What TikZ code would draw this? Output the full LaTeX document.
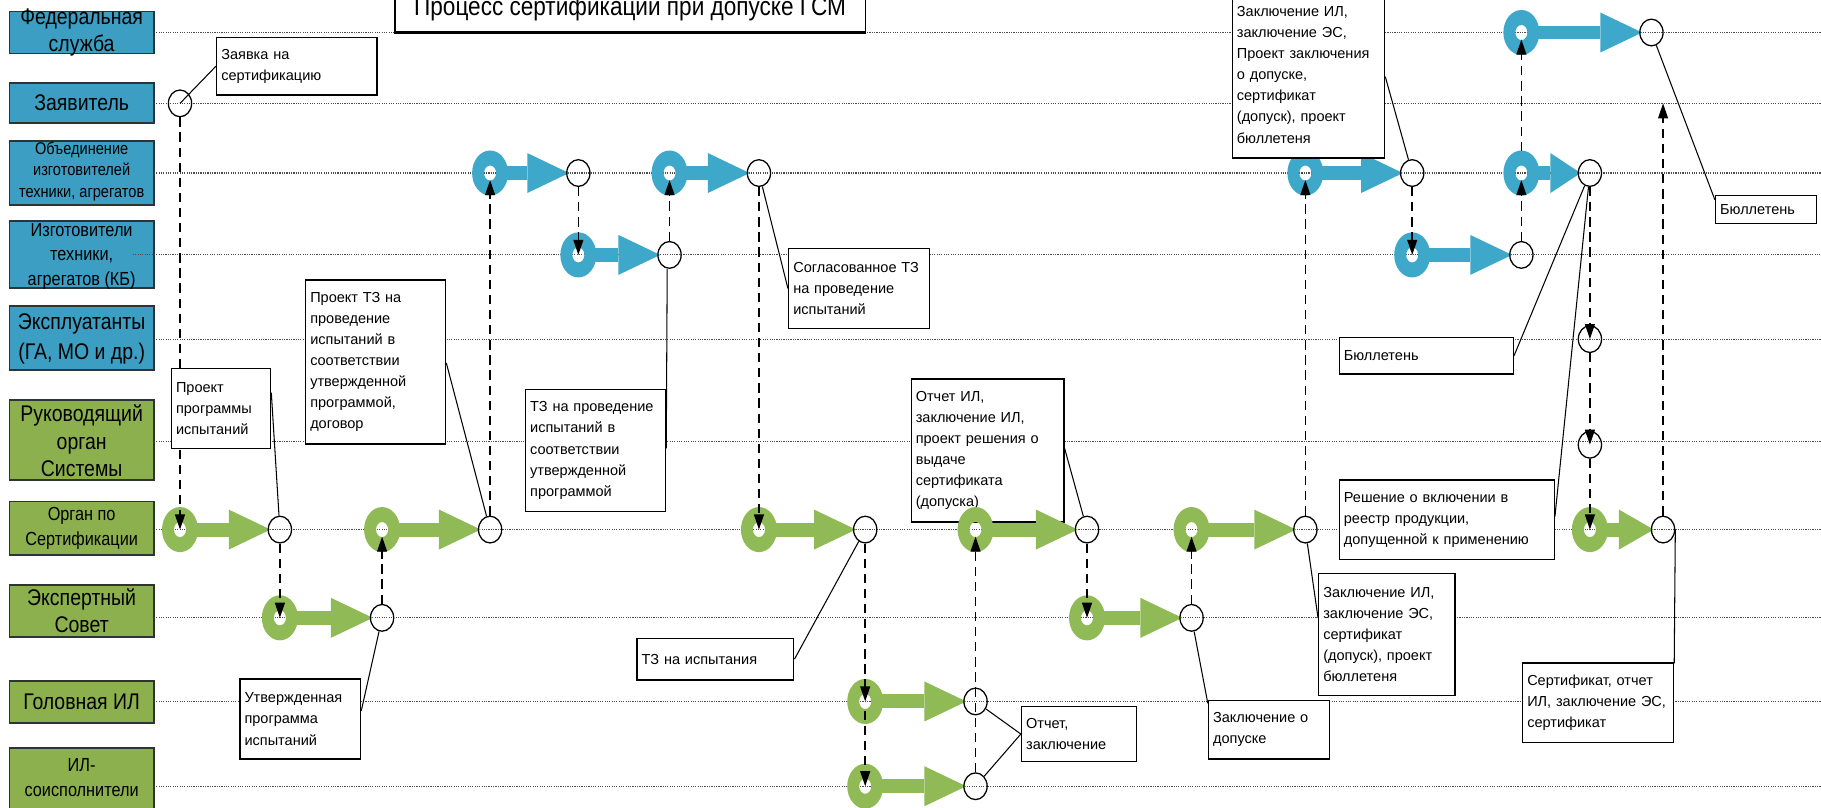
\documentclass[tikz,border=0pt]{standalone}
\usepackage{fontspec}
\setmainfont{Liberation Sans}
\newfontfamily\narrowsf[FakeStretch=0.86]{Liberation Sans}
\usetikzlibrary{arrows.meta,shapes.geometric}
\definecolor{bluefill}{HTML}{3B9EC2}
\definecolor{greenfill}{HTML}{8DB04E}
\definecolor{bluestep}{HTML}{3EA8CA}
\definecolor{greenstep}{HTML}{8FBA55}
\definecolor{edge}{HTML}{2E3336}
\tikzset{
  lane/.style={draw=black!70, line width=1pt, dash pattern=on 1pt off 1pt},
  lanebox/.style={draw=edge, line width=1.2pt},
  lanebig/.style={font=\narrowsf\fontsize{19.5}{23.5}\selectfont, align=center, inner sep=0pt},
  lanemid/.style={font=\narrowsf\fontsize{16.3}{21}\selectfont, align=center, inner sep=0pt},
  lanesmall/.style={font=\narrowsf\fontsize{14.6}{18.4}\selectfont, align=center, inner sep=0pt},
  titlebox/.style={draw=black, fill=white, line width=1.1pt, anchor=base, minimum width=405pt,
    text depth=5pt, inner ysep=9.5pt, font=\narrowsf\fontsize{22.6}{26}\selectfont},
  event/.style={ellipse, draw=black, line width=1.1pt, minimum width=20pt, minimum height=23pt, inner sep=0pt},
  flow/.style={draw=black, line width=1.3pt, dash pattern=on 8pt off 5pt, -{Triangle[length=13pt,width=8.5pt]}},
  flowup/.style={flow, shorten >=6pt},
  callout/.style={draw=black, fill=white, line width=1.1pt, anchor=north west, align=left,
    inner xsep=4pt, inner ysep=2pt, font=\fontsize{12.5}{18.2}\selectfont},
  leader/.style={draw=black, line width=0.9pt},
}
% step: name, colour, start x, event x, lane y, head length
\newcommand{\flowstep}[6]{%
  \fill[#2, even odd rule] (#3,#5) ellipse [x radius=15.5pt, y radius=19.4pt]
    (#3,#5) ellipse [x radius=5.2pt, y radius=6.5pt];
  \fill[#2] ({#3+8},{#5-6}) rectangle ({#4-8-#6},{#5+6});
  \fill[#2] ({#4-8-#6},{#5-17.2}) -- ({#4-8},#5) -- ({#4-8-#6},{#5+17.2}) -- cycle;
  \coordinate (d#1) at (#3,#5);
  \node[event] (c#1) at (#4,#5) {};
}
\begin{document}
\begin{tikzpicture}[x=1pt, y=-1pt]
  \useasboundingbox (0,0) rectangle (1568,695);
  \fill[white] (0,0) rectangle (1568,695);

  % participants
  \draw[lanebox, fill=bluefill] (8,10) rectangle (132.6,46);
  \node[lanebig] (lFed) at (70.3,28) {Федеральная\\служба};
  \draw[lanebox, fill=bluefill] (8,71.5) rectangle (132.6,106);
  \node[lanebig] (lZayav) at (70.3,88.8) {Заявитель};
  \draw[lanebox, fill=bluefill] (8,121.4) rectangle (132.6,176.5);
  \node[lanesmall] (lObed) at (70.3,147.5) {Объединение\\изготовителей\\техники, агрегатов};
  \draw[lanebox, fill=bluefill] (8,190.3) rectangle (132.6,248);
  \node[lanemid] (lIzg) at (70.3,220.5) {Изготовители\\техники,\\агрегатов (КБ)};
  \draw[lanebox, fill=bluefill] (8,263.5) rectangle (132.6,318.6);
  \node[lanebig, font=\narrowsf\fontsize{19.5}{26}\selectfont] (lExpl) at (70.3,292) {Эксплуатанты\\(ГА, МО и др.)};
  \draw[lanebox, fill=greenfill] (8,344.4) rectangle (132.6,413.3);
  \node[lanebig] (lRuk) at (70.3,379.5) {Руководящий\\орган\\Системы};
  \draw[lanebox, fill=greenfill] (8,432) rectangle (132.6,478);
  \node[lanemid] (lOrg) at (70.3,455) {Орган по\\Сертификации};
  \draw[lanebox, fill=greenfill] (8,503.7) rectangle (132.6,548.5);
  \node[lanebig] (lExp) at (70.3,526) {Экспертный\\Совет};
  \draw[lanebox, fill=greenfill] (8,586.4) rectangle (132.6,622.5);
  \node[lanebig] (lGol) at (70.3,604) {Головная ИЛ};
  \draw[lanebox, fill=greenfill] (8,644) rectangle (132.6,702);
  \node[lanemid] (lSoisp) at (70.3,669.5) {ИЛ-\\соисполнители};

  \foreach \y in {28,89,149,292,380,456,532,604,677}
    \draw[lane] (132.6,\y) -- (1568,\y);
  \draw[lane] (114.5,219.5) -- (1568,219.5);

  \node[titlebox] (title) at (542.5,13) {Процесс сертификации при допуске ГСМ};
  \draw[line width=2pt] (title.south west) -- (title.south east);

  \node[callout, text width=123.5pt, minimum height=123.3pt] (nOtchetIL) at (784,325.7)
    {Отчет ИЛ,\\заключение ИЛ,\\проект решения о\\выдаче\\сертификата\\(допуска)};

  % steps
  \flowstep{G1}{greenstep}{155}{241}{456}{36}
  \flowstep{G2}{greenstep}{241}{329}{532}{36}
  \flowstep{G3}{greenstep}{329}{422}{456}{36}
  \flowstep{B1}{bluestep}{422}{498}{149}{36}
  \flowstep{B2}{bluestep}{498}{576.5}{219.5}{36}
  \flowstep{B3}{bluestep}{576.5}{653.5}{149}{36}
  \flowstep{G4}{greenstep}{653.5}{745}{456}{36}
  \flowstep{G5}{greenstep}{745}{840}{604}{36}
  \flowstep{G6}{greenstep}{745}{840}{677}{36}
  \flowstep{G7}{greenstep}{840}{936}{456}{36}
  \flowstep{G8}{greenstep}{936}{1026}{532}{36}
  \flowstep{G9}{greenstep}{1026}{1124}{456}{36}
  \flowstep{B4}{bluestep}{1124}{1216}{149}{36}
  \flowstep{B5}{bluestep}{1216}{1310}{219.5}{36}
  \flowstep{B6}{bluestep}{1310}{1369}{149}{26}
  \flowstep{B7}{bluestep}{1310}{1422}{28}{36}
  \flowstep{G10}{greenstep}{1369}{1432}{456}{30}
  \node[event] (cZ) at (155,89) {};
  \node[event] (cL5) at (1369,292) {};
  \node[event] (cL6) at (1369,383) {};
  \coordinate (zEnd) at (1432,89);

  % hand-overs
  \draw[flow] (cZ) -- (dG1);
  \draw[flow] (cG1) -- (dG2);
  \draw[flowup] (cG2) -- (dG3);
  \draw[flowup] (cG3) -- (dB1);
  \draw[flow] (cB1) -- (dB2);
  \draw[flowup] (cB2) -- (dB3);
  \draw[flow] (cB3) -- (dG4);
  \draw[flow] (cG4) -- (dG5);
  \draw[flow, shorten <=8pt] (dG5) -- (dG6);
  \draw[flowup] (cG6) -- (dG7);
  \draw[flow] (cG7) -- (dG8);
  \draw[flowup] (cG8) -- (dG9);
  \draw[flowup] (cG9) -- (dB4);
  \draw[flow] (cB4) -- (dB5);
  \draw[flowup] (cB5) -- (dB6);
  \draw[flowup, shorten <=19pt] (dB6) -- (dB7);
  \draw[flow] (cB6) -- (cL5.center);
  \draw[flow] (cL5) -- (cL6.center);
  \draw[flow] (cL6) -- (dG10);
  \draw[flow] (cG10) -- (zEnd);

  % documents
  \node[callout, text width=130pt, minimum height=49.6pt] (nZayavka) at (186,31.6)
    {Заявка на\\сертификацию};
  \node[callout, text width=77.5pt, minimum height=68.5pt] (nProekt) at (147,317)
    {Проект\\программы\\испытаний};
  \node[callout, text width=112.6pt, minimum height=141.2pt] (nTzProekt) at (262.6,240.5)
    {Проект ТЗ на\\проведение\\испытаний в\\соответствии\\утвержденной\\программой,\\договор};
  \node[callout, text width=112.6pt, minimum height=104.7pt] (nTz) at (452,335)
    {ТЗ на проведение\\испытаний в\\соответствии\\утвержденной\\программой};
  \node[callout, text width=113.5pt, minimum height=69pt] (nTzSogl) at (678.5,213.5)
    {Согласованное ТЗ\\на проведение\\испытаний};
  \node[callout, text width=127pt, minimum height=36pt] (nTzIsp) at (548,549)
    {ТЗ на испытания};
  \node[callout, text width=91pt, minimum height=47pt] (nOtchet) at (879,608)
    {Отчет,\\заключение};
  \node[callout, text width=96pt, minimum height=69pt] (nUtv) at (206,584)
    {Утвержденная\\программа\\испытаний};
  \node[callout, text width=123.2pt, minimum height=143.5pt] (nZaklDop) at (1060.5,-8)
    {Заключение ИЛ,\\заключение ЭС,\\Проект заключения\\о допуске,\\сертификат\\(допуск), проект\\бюллетеня};
  \node[callout, text width=96pt, minimum height=50.3pt] (nZaklO) at (1040,602.7)
    {Заключение о\\допуске};
  \node[callout, text width=109.5pt, minimum height=105.4pt] (nZaklIL) at (1134.9,493)
    {Заключение ИЛ,\\заключение ЭС,\\сертификат\\(допуск), проект\\бюллетеня};
  \node[callout, text width=177.2pt, minimum height=68.6pt] (nReshenie) at (1152.6,412.7)
    {Решение о включении в\\реестр продукции,\\допущенной к применению};
  \node[callout, text width=142pt, minimum height=31.4pt] (nBull) at (1152.6,290)
    {Бюллетень};
  \node[callout, text width=79pt, minimum height=24pt] (nBullR) at (1476.6,168)
    {Бюллетень};
  \node[callout, text width=122pt, minimum height=68.3pt] (nSert) at (1310.5,570.3)
    {Сертификат, отчет\\ИЛ, заключение ЭС,\\сертификат};

  \draw[leader] (nZayavka.west) -- (cZ.center);
  \draw[leader] ([yshift=-21pt]nProekt.north east) -- (cG1);
  \draw[leader] ([yshift=-72pt]nTzProekt.north east) -- (cG3);
  \draw[leader] ([yshift=-51pt]nTz.north east) -- ([xshift=-2pt]cB2.south);
  \draw[leader] ([yshift=-35pt]nTzSogl.north west) -- (cB3);
  \draw[leader] (nTzIsp.east) -- (cG4);
  \draw[leader] ([yshift=-60pt]nOtchetIL.north east) -- (cG7);
  \draw[leader] (nOtchet.west) -- (cG5);
  \draw[leader] (nOtchet.west) -- (cG6);
  \draw[leader] ([yshift=-28pt]nUtv.north east) -- (cG2);
  \draw[leader] ([yshift=-74pt]nZaklDop.north east) -- (cB4);
  \draw[leader] ([yshift=-3pt]nZaklO.north west) -- (cG8);
  \draw[leader] ([yshift=-39pt]nZaklIL.north west) -- (cG9);
  \draw[leader] ([yshift=-32pt]nReshenie.north east) -- (cB6);
  \draw[leader] (nBull.east) -- (cB6);
  \draw[leader] ([yshift=-4pt]nBullR.north west) -- (cB7);
  \draw[leader] ([yshift=-1pt]nSert.north east) -- (cG10.east);
\end{tikzpicture}
\end{document}
